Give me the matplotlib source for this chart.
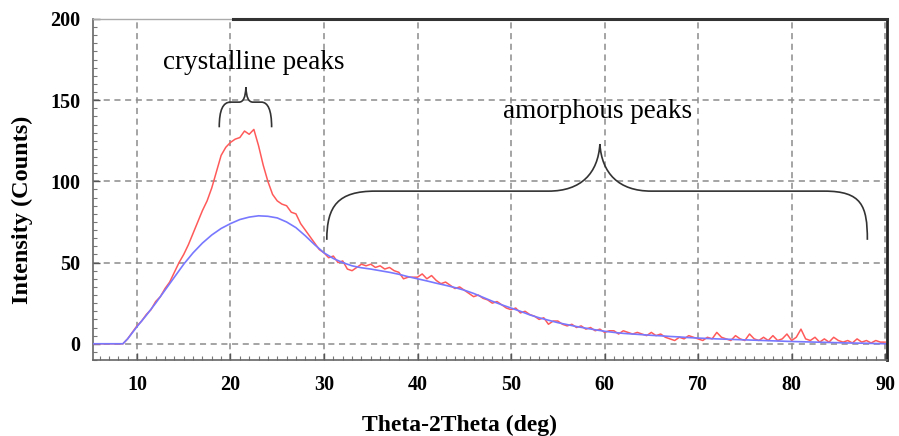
import numpy as np
import matplotlib
matplotlib.use("Agg")
import matplotlib.pyplot as plt
from matplotlib.path import Path
from matplotlib.patches import PathPatch
from matplotlib.ticker import MultipleLocator

# ---- data ----
red_x = np.arange(5.0, 90.01, 0.5)
red_y = [
    0, 0, 0, 0, 0, 0, 0, 0, 3, 7,
    11, 14, 18, 21, 26, 29, 34, 38, 44, 50,
    55, 61, 68, 75, 82, 88, 96, 106, 116, 121,
    124, 126, 127, 131, 129, 132, 122, 110, 100, 92,
    88, 86, 85, 81, 80, 74, 70, 66, 62, 58,
    56, 53, 54, 50, 51, 46, 45, 47, 49, 48,
    49, 47, 48, 46, 47, 45, 44, 40, 41, 41,
    41, 43, 40, 42, 39, 37, 38, 36, 34, 35,
    33, 31, 29, 30, 28, 27, 25, 26, 24, 22,
    21, 22, 19, 20, 18, 17, 15, 16, 12, 14,
    14, 12, 11, 12, 10, 11, 9, 10, 8, 9,
    7, 8, 8, 6, 8, 7, 6, 7, 6, 5,
    7, 5, 6, 4, 3, 2, 4, 3, 5, 4,
    3, 2, 4, 3, 7, 4, 3, 2, 5, 3,
    2, 6, 3, 2, 4, 2, 5, 2, 3, 6,
    2, 4, 9, 3, 2, 4, 1, 3, 1, 4,
    2, 1, 2, 0.5, 3, 1, 2, 0.5, 2, 1,
    1,
]

blue_x = [5, 8.5, 9, 10, 11, 12, 13, 14, 15, 16, 17, 18, 19, 20, 21, 22, 23, 24,
          25, 26, 27, 28, 29, 30, 31, 32, 33, 34, 35, 36, 37, 38, 39, 40, 41, 42,
          43, 44, 45, 46, 47, 48, 49, 50, 51, 52, 53, 54, 55, 56, 57, 58, 59, 60,
          61, 62, 63, 64, 65, 66, 67, 68, 69, 70, 72, 74, 76, 78, 80, 82, 84, 86,
          88, 90]
blue_y = [0, 0, 3, 10.5, 17.5, 25, 33, 41, 49, 56, 62, 67, 71, 74, 76.5, 78, 78.8,
          78.5, 77.5, 75, 71.5, 66.5, 61, 56, 52.5, 50, 48, 46.8, 46, 45, 44, 42.8,
          41.3, 40, 38.7, 37.3, 36, 34.6, 33, 31, 28.6, 26.2, 24, 22, 20, 17.8, 16,
          14.5, 13, 11.8, 10.6, 9.6, 8.6, 7.7, 7, 6.4, 6, 5.6, 5.2, 4.9, 4.5, 4.2,
          3.8, 3.5, 3, 2.6, 2.2, 1.8, 1.4, 1.1, 0.8, 0.5, 0.3, 0]

x_ticks = [10, 20, 30, 40, 50, 60, 70, 80, 90]
y_ticks = [0, 50, 100, 150, 200]
x_label = "Theta-2Theta (deg)"
y_label = "Intensity (Counts)"
label_cryst = "crystalline peaks"
label_amorph = "amorphous peaks"

# ---- figure ----
serif = ["Liberation Serif", "DejaVu Serif"]
plt.rcParams["font.family"] = serif

fig = plt.figure(figsize=(8.99, 4.36), dpi=100)
ax = fig.add_axes([93 / 899, (436 - 360) / 436, (887 - 93) / 899, (360 - 19) / 436])

ax.set_xlim(5.3, 90.2)
ax.set_ylim(-10, 200)

ax.plot(red_x, red_y, color="#ff5a5a", lw=1.1, zorder=3)
ax.plot(blue_x, blue_y, color="#7878ff", lw=1.2, zorder=4)

ax.set_xticks(x_ticks)
ax.set_yticks(y_ticks)
ax.xaxis.set_minor_locator(MultipleLocator(1))
ax.yaxis.set_minor_locator(MultipleLocator(5))
ax.tick_params(which="major", direction="in", length=5, width=1, color="#555555",
               labelsize=14.5)
ax.tick_params(axis="y", which="major", pad=9)
ax.tick_params(axis="x", which="major", pad=11)
ax.tick_params(which="minor", direction="in", length=3, width=0.8, color="#777777")
for lab in ax.get_xticklabels() + ax.get_yticklabels():
    lab.set_fontweight("bold")

ax.grid(True, which="major", color="#8c8c8c", linestyle=(0, (4, 3)), lw=1.1)
ax.set_axisbelow(True)

for side in ["left", "bottom"]:
    ax.spines[side].set_color("#666666")
    ax.spines[side].set_linewidth(1.2)
ax.spines["top"].set_color("#aaaaaa")
ax.spines["top"].set_linewidth(1.0)
ax.spines["right"].set_color("#222222")
ax.spines["right"].set_linewidth(2.0)
ax.axhline(200, xmin=0.176, xmax=1.0, color="#333333", lw=2.2, clip_on=False, zorder=5)

ax.set_xlabel(x_label, fontsize=17, fontweight="bold")
ax.set_ylabel(y_label, fontsize=17.5, fontweight="bold")
ax.xaxis.set_label_coords(0.461, -0.16)
ax.yaxis.set_label_coords(-0.076, 0.44)

# ---- annotations (braces) ----
def brace(pts):
    codes = [Path.MOVETO,
             Path.CURVE4, Path.CURVE4, Path.CURVE4,
             Path.LINETO,
             Path.CURVE4, Path.CURVE4, Path.CURVE4,
             Path.CURVE4, Path.CURVE4, Path.CURVE4,
             Path.LINETO,
             Path.CURVE4, Path.CURVE4, Path.CURVE4]
    return PathPatch(Path(pts, codes), fill=False, edgecolor="#333333", lw=1.2, zorder=6)

small = [(18.8, 133.3),
         (18.8, 144), (19.2, 148.8), (20.0, 148.8),
         (20.9, 148.8),
         (21.4, 148.8), (21.6, 152), (21.65, 158),
         (21.7, 152), (21.9, 148.8), (22.4, 148.8),
         (23.3, 148.8),
         (24.0, 148.8), (24.4, 144), (24.4, 133.3)]
big = [(30.3, 64),
       (30.3, 85), (31.5, 94), (35.5, 94),
       (54.0, 94),
       (57.5, 94), (59.3, 105), (59.5, 123),
       (59.7, 105), (61.5, 94), (65.0, 94),
       (83.5, 94),
       (87.5, 94), (88.1, 85), (88.1, 64)]
ax.add_patch(brace(small))
ax.add_patch(brace(big))

ax.text(22.5, 173, label_cryst, fontsize=19.5, ha="center", va="center", zorder=7)
ax.text(59.2, 143, label_amorph, fontsize=19.5, ha="center", va="center", zorder=7)

fig.savefig("out.png", dpi=100)
